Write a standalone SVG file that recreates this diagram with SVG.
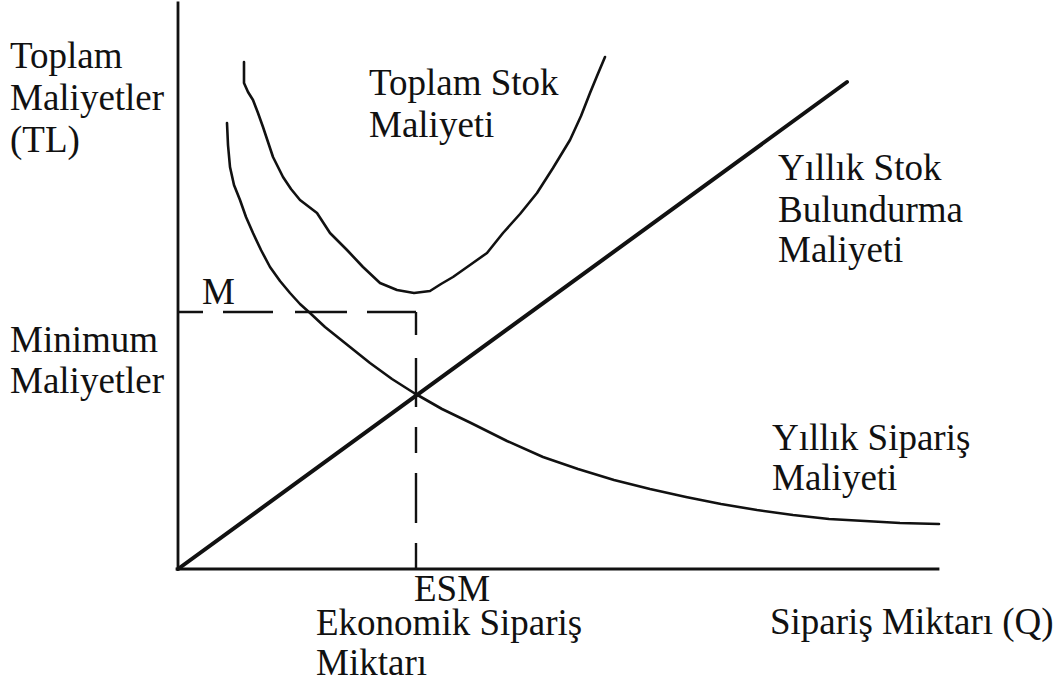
<svg xmlns="http://www.w3.org/2000/svg" width="1064" height="686" viewBox="0 0 1064 686">
<style>
.t{font-family:"Liberation Serif","Times New Roman",serif;font-size:37px;fill:#111}
.ax{stroke:#111;stroke-width:2.8;fill:none;stroke-linecap:square}
.cv{stroke:#111;stroke-width:2.6;fill:none;stroke-linejoin:round;stroke-linecap:round}
.ln{stroke:#111;stroke-width:4;fill:none;stroke-linecap:round}
.ds{stroke:#111;stroke-width:2.4;fill:none}
</style>
<rect width="1064" height="686" fill="#fff"/>
<g id="axes">
<line class="ax" x1="178" y1="3" x2="178" y2="569"/>
<line class="ax" x1="177" y1="569" x2="938" y2="569"/>
</g>
<g id="connectors">
<path id="min-h" class="ds" d="M178,312 H203 M223,312 H273 M295,312 H347 M367,312 H416"/>
<path id="min-v" class="ds" d="M416,312 V335 M416,358 V407 M416,427 V453 M416,473 V523 M416,543 V569"/>
</g>
<g id="holding-cost">
<line class="ln" x1="178" y1="569" x2="847" y2="82"/>
</g>
<g id="order-cost">
<polyline class="cv" points="227,123 228,145 230,167 234,185 240,200 246,217 253,233 261,250 270,267 280,281 290,293 300,304 310,313 325,327 340,339 355,351 370,363 392,379 414,393 442,409 471,423 507,441 543,457 578,469 614,480 650,489 686,497 721,504 757,510 793,515 829,519 865,521 900,523 939,524"/>
</g>
<g id="total-cost">
<polyline class="cv" points="244,62 244,83 248,92 253,100 258,113 263,127 268,142 273,157 283,177 291,189 300,200 317,213 330,233 347,250 363,267 380,283 397,290 414,293 430,291 441,284 453,277 470,265 487,253 503,233 520,214 537,193 553,168 570,140 581,116 590,93 597,76 605,57"/>
</g>
<g id="labels">
<text class="t" x="10" y="68">Toplam</text>
<text class="t" x="10" y="110">Maliyetler</text>
<text class="t" x="10" y="152">(TL)</text>
<text class="t" x="10" y="352">Minimum</text>
<text class="t" x="10" y="393">Maliyetler</text>
<text class="t" x="202" y="304">M</text>
<text class="t" x="369" y="95">Toplam Stok</text>
<text class="t" x="369" y="137">Maliyeti</text>
<text class="t" x="778" y="180">Yıllık Stok</text>
<text class="t" x="778" y="222">Bulundurma</text>
<text class="t" x="778" y="262">Maliyeti</text>
<text class="t" x="772" y="450">Yıllık Sipariş</text>
<text class="t" x="772" y="490">Maliyeti</text>
<text class="t" x="414" y="601">ESM</text>
<text class="t" x="316" y="635">Ekonomik Sipariş</text>
<text class="t" x="316" y="675">Miktarı</text>
<text class="t" x="770" y="634">Sipariş Miktarı (Q)</text>
</g>
</svg>
